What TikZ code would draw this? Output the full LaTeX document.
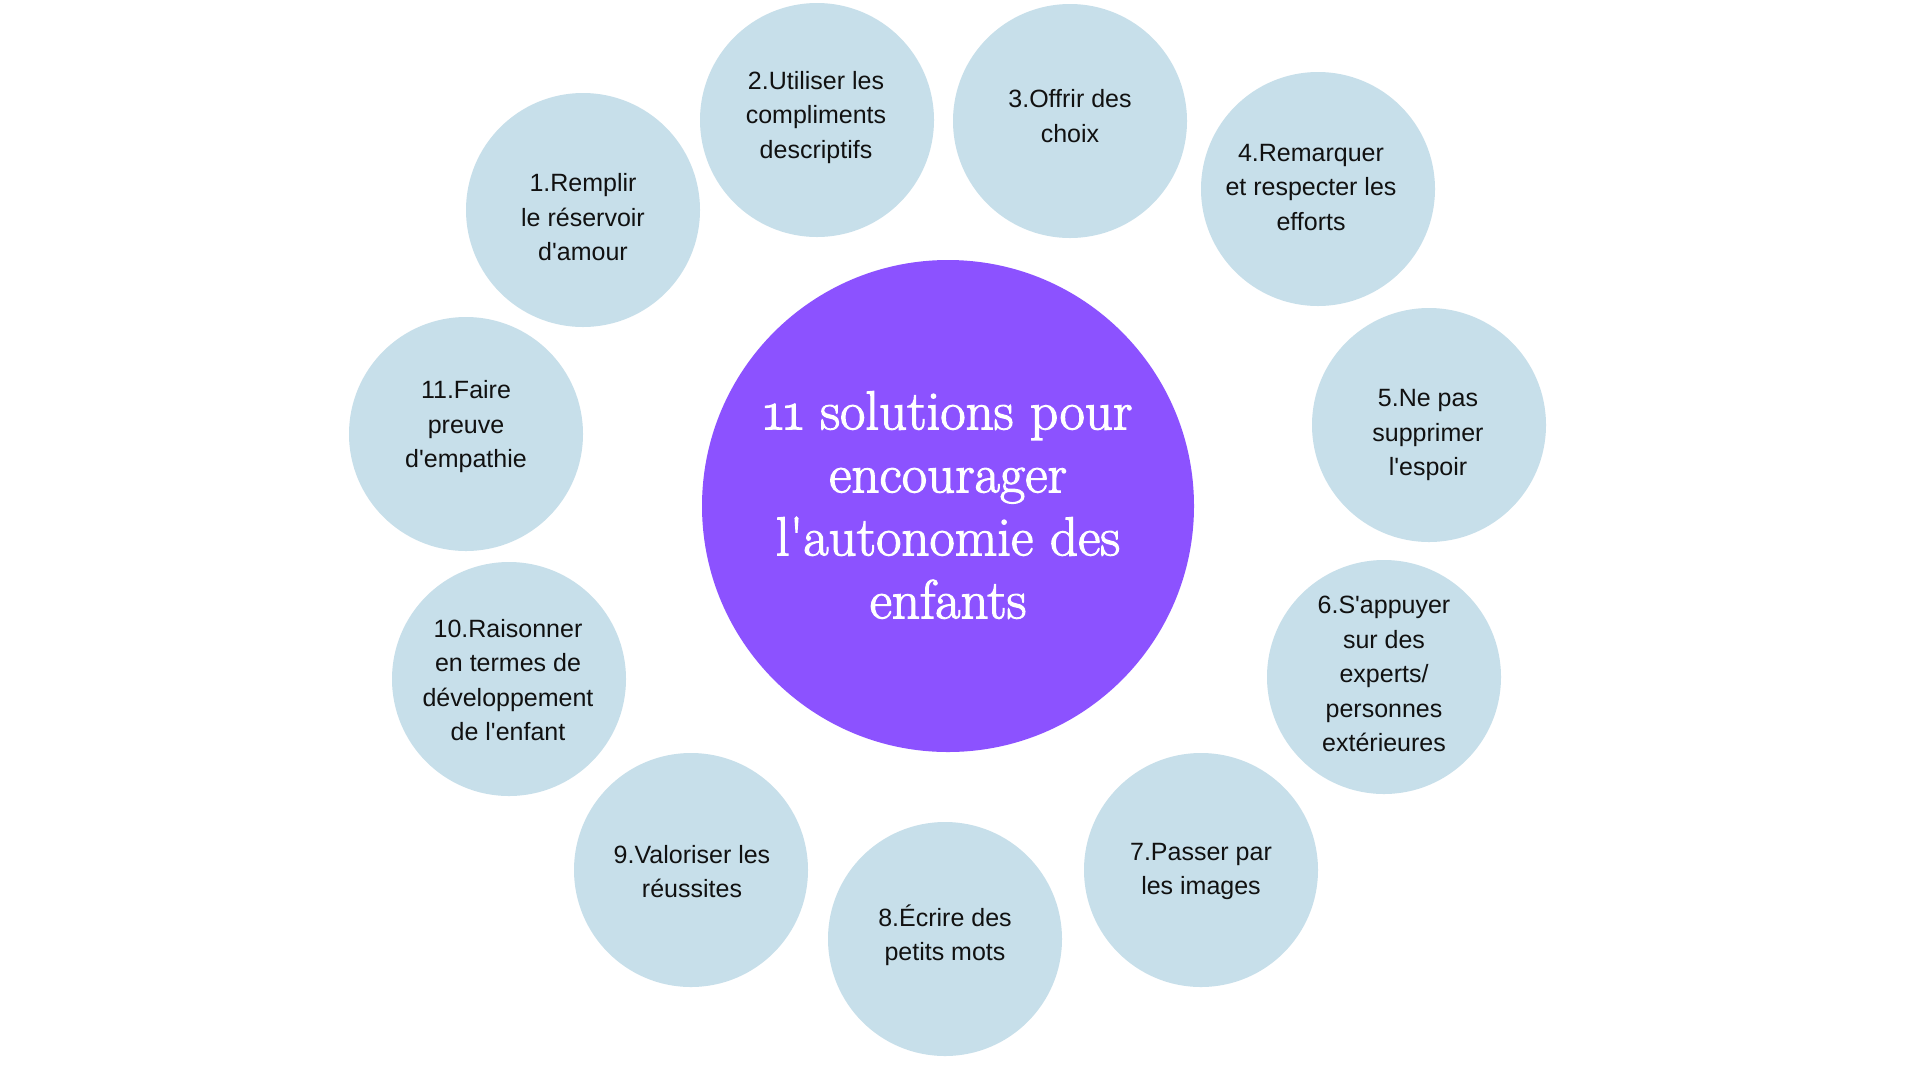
\documentclass[tikz,border=0pt]{standalone}
\usepackage{fontspec}
\newfontfamily\bodyfont{Liberation Sans}
\newfontfamily\titlefont[Numbers=OldStyle, BoldFont={Latin Modern Roman}, BoldFeatures={FakeBold=2}]{Latin Modern Roman}
\definecolor{bubble}{HTML}{C7DFEA}
\definecolor{hub}{HTML}{8C52FF}
\definecolor{ink}{HTML}{111111}
\tikzset{
  bubble/.style={circle, fill=bubble, draw=none, minimum size=234pt, inner sep=0pt},
  hubcircle/.style={circle, fill=hub, draw=none, minimum size=492pt, inner sep=0pt},
  label/.style={align=center, inner sep=0pt, text=ink, font=\bodyfont\fontsize{25}{34.5}\selectfont},
  titletext/.style={align=center, inner sep=0pt, text=white, font=\titlefont\bfseries\fontsize{55}{63}\selectfont}
}
\begin{document}
\begin{tikzpicture}[x=1pt,y=-1pt]
\useasboundingbox (0,0) rectangle (1920,1080);
\fill[white] (0,0) rectangle (1920,1080);
% central circle
\node[hubcircle] (hub) at (948,506) {};
\node[titletext] (title) at (948,505) {11 solutions pour\\encourager\\l'autonomie des\\enfants};
% surrounding circles
\node[bubble] (c1) at (583,210) {};
\node[bubble] (c2) at (817,120) {};
\node[bubble] (c3) at (1070,121) {};
\node[bubble] (c4) at (1318,189) {};
\node[bubble] (c5) at (1429,425) {};
\node[bubble] (c6) at (1384,677) {};
\node[bubble] (c7) at (1201,870) {};
\node[bubble] (c8) at (945,939) {};
\node[bubble] (c9) at (691,870) {};
\node[bubble] (c10) at (509,679) {};
\node[bubble] (c11) at (466,434) {};
% labels
\node[label] (t1) at (583,217.5) {1.Remplir\\le réservoir\\d'amour};
\node[label] (t2) at (816,117.5) {2.Utiliser les\\compliments\\descriptifs};
\node[label] (t3) at (1070,116) {3.Offrir des\\choix};
\node[label] (t4) at (1311,187.5) {4.Remarquer\\et respecter les\\efforts};
\node[label] (t5) at (1428,435) {5.Ne pas\\supprimer\\l'espoir};
\node[label] (t6) at (1384,674) {6.S'appuyer\\sur des\\experts/\\personnes\\extérieures};
\node[label] (t7) at (1201,871.5) {7.Passer par\\les images};
\node[label] (t8) at (945,935) {8.Écrire des\\petits mots};
\node[label] (t9) at (692,871.5) {9.Valoriser les\\réussites};
\node[label] (t10) at (508,680) {10.Raisonner\\en termes de\\développement\\de l'enfant};
\node[label] (t11) at (466,427) {11.Faire\\preuve\\d'empathie};
\end{tikzpicture}
\end{document}
